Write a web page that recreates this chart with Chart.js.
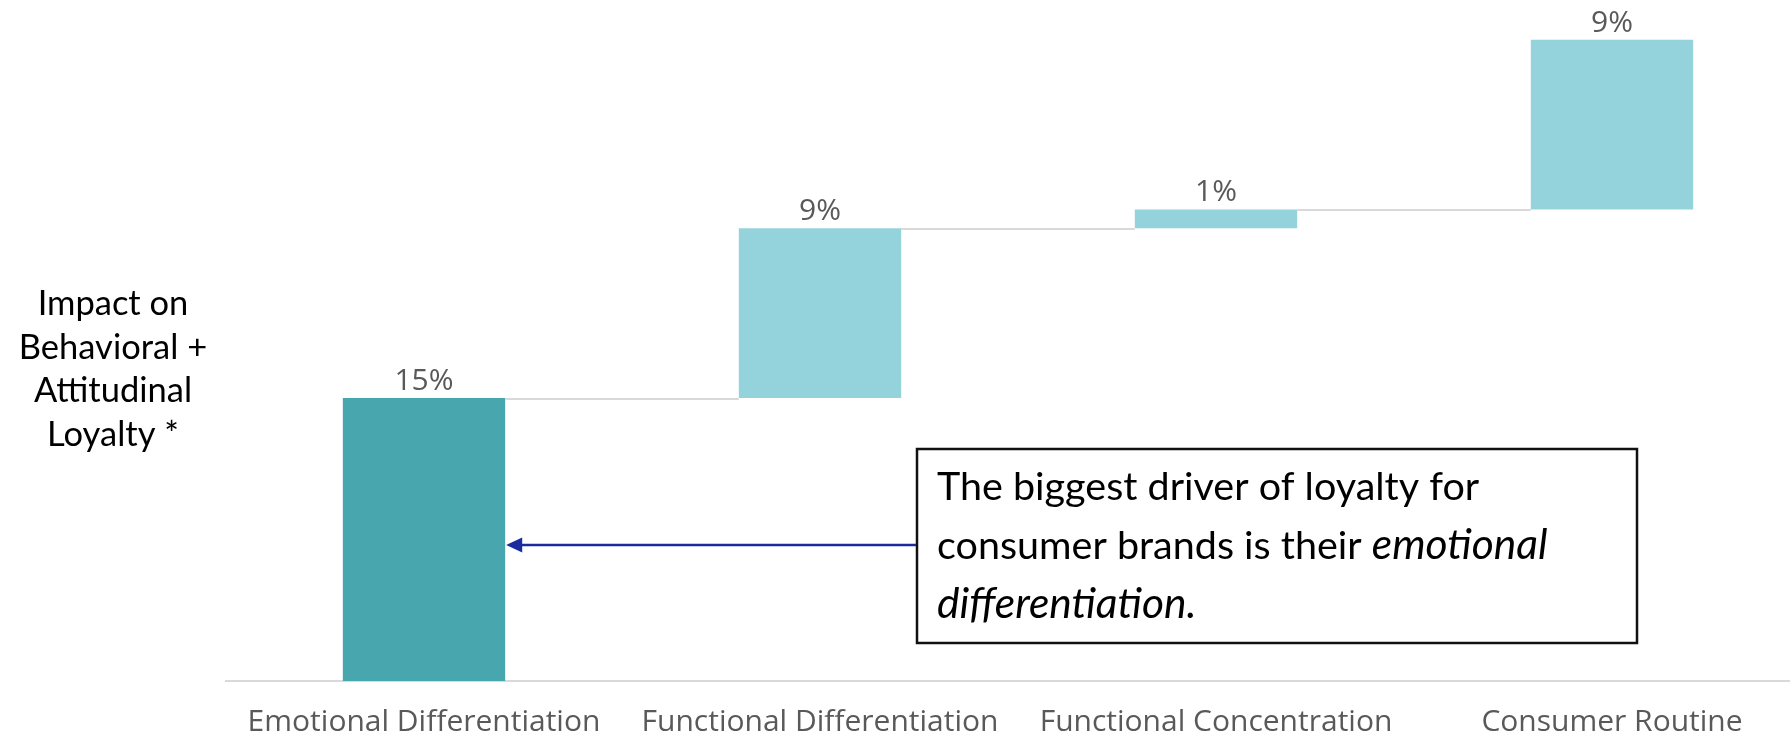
<!DOCTYPE html>
<html>
<head>
<meta charset="utf-8">
<script src="https://cdn.jsdelivr.net/npm/chart.js@4.4.1/dist/chart.umd.min.js"></script>
<style>
    html, body { margin: 0; padding: 0; background: #fff; overflow: hidden; }
    #wrap { width: 1790px; height: 737px; overflow: hidden; position: relative; }
</style>
</head>
<body>
<div id="wrap"><canvas id="chart" width="1812" height="737"></canvas></div>
<script>
// Données du graphique en cascade
const categories = ['Emotional Differentiation', 'Functional Differentiation', 'Functional Concentration', 'Consumer Routine'];
const increments = [15, 9, 1, 9];
const barColors = ['#48a6ae', '#94d3db', '#94d3db', '#94d3db'];
const yTitleLines = ['Impact on', 'Behavioral +', 'Attitudinal', 'Loyalty *'];
const calloutLines = [
    [{ text: 'The biggest driver of loyalty for', italic: false }],
    [{ text: 'consumer brands is their ', italic: false }, { text: 'emotional', italic: true }],
    [{ text: 'differentiation.', italic: true }]
];

// Barres flottantes [début, fin]
let running = 0;
const ranges = increments.map(v => {
    const r = [running, running + v];
    running += v;
    return r;
});
const valueLabels = increments.map(v => v + '%');

const waterfallExtras = {
    id: 'waterfallExtras',
    afterDatasetsDraw(chart) {
        const ctx = chart.ctx;
        const meta = chart.getDatasetMeta(0);
        const yScale = chart.scales.y;
        ctx.save();

        // Lignes de liaison entre les barres
        ctx.strokeStyle = '#d9d9d9';
        ctx.lineWidth = 2;
        for (let i = 0; i < meta.data.length - 1; i++) {
            const a = meta.data[i], b = meta.data[i + 1];
            const py = Math.round(yScale.getPixelForValue(ranges[i][1])) + 1;
            ctx.beginPath();
            ctx.moveTo(a.x + a.width / 2, py);
            ctx.lineTo(b.x - b.width / 2, py);
            ctx.stroke();
        }

        // Étiquettes de valeur
        ctx.font = '30px "Open Sans", sans-serif';
        ctx.fillStyle = '#595959';
        ctx.textAlign = 'center';
        ctx.textBaseline = 'alphabetic';
        meta.data.forEach((bar, i) => {
            ctx.fillText(valueLabels[i], bar.x, Math.min(bar.y, bar.base) - 8);
        });

        // Titre de l'axe Y (horizontal)
        ctx.fillStyle = '#000';
        ctx.font = '34.5px Lato, sans-serif';
        yTitleLines.forEach((line, i) => {
            ctx.fillText(line, 113, 315 + i * 43.5);
        });

        // Encadré
        const box = { x: 917, y: 449, w: 720, h: 194 };
        ctx.fillStyle = '#fff';
        ctx.fillRect(box.x, box.y, box.w, box.h);
        ctx.strokeStyle = '#111';
        ctx.lineWidth = 2.5;
        ctx.strokeRect(box.x, box.y, box.w, box.h);

        ctx.fillStyle = '#000';
        ctx.textAlign = 'left';
        calloutLines.forEach((parts, i) => {
            let x = 937;
            const y = 500 + i * 59;
            parts.forEach(p => {
                ctx.font = p.italic ? 'italic 42.5px Lato, sans-serif' : '39.5px Lato, sans-serif';
                ctx.fillText(p.text, x, y);
                x += ctx.measureText(p.text).width;
            });
        });

        // Flèche vers la première barre
        const first = meta.data[0];
        const tipX = first.x + first.width / 2 + 1;
        const ay = 545;
        ctx.strokeStyle = '#1a2aa0';
        ctx.fillStyle = '#1a2aa0';
        ctx.lineWidth = 2.5;
        ctx.beginPath();
        ctx.moveTo(box.x - 1, ay);
        ctx.lineTo(tipX + 12, ay);
        ctx.stroke();
        ctx.beginPath();
        ctx.moveTo(tipX, ay);
        ctx.lineTo(tipX + 16, ay - 7.5);
        ctx.lineTo(tipX + 16, ay + 7.5);
        ctx.closePath();
        ctx.fill();

        ctx.restore();
    }
};

function draw() {
    const ctx = document.getElementById('chart').getContext('2d');
    new Chart(ctx, {
        type: 'bar',
        data: {
            labels: categories,
            datasets: [{
                data: ranges,
                backgroundColor: barColors,
                borderWidth: 0,
                barPercentage: 1,
                categoryPercentage: 0.41
            }]
        },
        options: {
            responsive: false,
            animation: false,
            layout: { padding: { left: 226, right: 2, top: 2, bottom: 0 } },
            plugins: {
                legend: { display: false },
                tooltip: { enabled: false }
            },
            scales: {
                x: {
                    grid: { display: false, drawTicks: false },
                    border: { display: true, color: '#d9d9d9', width: 2 },
                    ticks: {
                        color: '#595959',
                        font: { family: '"Open Sans", sans-serif', size: 30 },
                        padding: 23,
                        maxRotation: 0,
                        autoSkip: false
                    },
                    afterFit(scale) { scale.height = 56; }
                },
                y: { display: false, min: 0, max: 36 }
            }
        },
        plugins: [waterfallExtras]
    });
}

Promise.all([
    document.fonts.load('34px Lato'),
    document.fonts.load('italic 42px Lato'),
    document.fonts.load('30px "Open Sans"')
]).then(draw, draw);
</script>
</body>
</html>
